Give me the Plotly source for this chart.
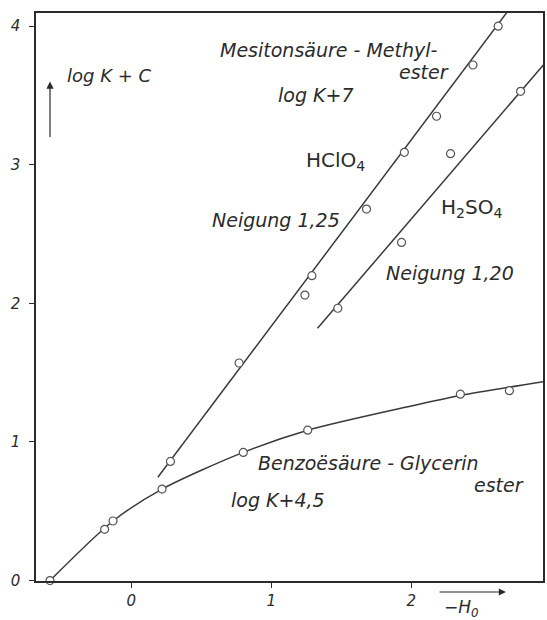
import plotly.graph_objects as go

# ---- data ----
# Benzoësäure-Glycerinester (log K + 4,5)
benz_x = [-0.58, -0.19, -0.13, 0.22, 0.80, 1.26, 2.35, 2.70]
benz_y = [0.00, 0.37, 0.43, 0.66, 0.925, 1.085, 1.345, 1.37]
benz_curve_x = [-0.58, -0.13, 0.22, 0.80, 1.26, 2.00, 2.35, 2.94]
benz_curve_y = [0.00, 0.43, 0.66, 0.925, 1.085, 1.26, 1.335, 1.435]

# Mesitonsäure-Methylester in HClO4 (log K + 7)
hclo4_x = [0.28, 0.77, 1.24, 1.29, 1.68, 1.95, 2.18, 2.44, 2.62]
hclo4_y = [0.86, 1.57, 2.06, 2.20, 2.68, 3.09, 3.35, 3.72, 4.00]
hclo4_fit_x = [0.19, 2.72]
hclo4_fit_y = [0.745, 4.15]

# Mesitonsäure-Methylester in H2SO4
h2so4_x = [1.475, 1.93, 2.28, 2.78]
h2so4_y = [1.965, 2.44, 3.08, 3.53]
h2so4_fit_x = [1.33, 2.96]
h2so4_fit_y = [1.82, 3.74]

x_ticks = [0, 1, 2]
y_ticks = [0, 1, 2, 3, 4]

FONT = "DejaVu Sans"
INK = "#2b2b2b"
LINE = dict(color="#3a3a3a", width=1.5)
MARK = dict(symbol="circle", size=8, color="white",
            line=dict(color="#555555", width=1.2))

fig = go.Figure()
fig.add_trace(go.Scatter(x=benz_curve_x, y=benz_curve_y, mode="lines",
                         line=dict(shape="spline", smoothing=0.8, **LINE),
                         hoverinfo="skip"))
fig.add_trace(go.Scatter(x=hclo4_fit_x, y=hclo4_fit_y, mode="lines", line=LINE))
fig.add_trace(go.Scatter(x=h2so4_fit_x, y=h2so4_fit_y, mode="lines", line=LINE))
fig.add_trace(go.Scatter(x=benz_x, y=benz_y, mode="markers", marker=MARK, cliponaxis=False))
fig.add_trace(go.Scatter(x=hclo4_x, y=hclo4_y, mode="markers", marker=MARK, cliponaxis=False))
fig.add_trace(go.Scatter(x=h2so4_x, y=h2so4_y, mode="markers", marker=MARK, cliponaxis=False))


def label(text, x, y, anchor="left", size=19):
    fig.add_annotation(x=x, y=y, xref="x", yref="y", text=text, showarrow=False,
                       xanchor=anchor, yanchor="middle",
                       font=dict(family=FONT, size=size, color=INK))

label("<i>Mesitonsäure - Methyl-</i>", 0.616, 3.83)
label("<i>ester</i>", 2.281, 3.67, "right")
label("<i>log K+7</i>", 1.036, 3.50)
label("HClO<sub>4</sub>", 1.235, 3.03, size=20)
label("H<sub>2</sub>SO<sub>4</sub>", 2.196, 2.69, size=20)
label("<i>Neigung 1,25</i>", 0.559, 2.60)
label("<i>Neigung 1,20</i>", 1.804, 2.22)
label("<i>Benzoësäure - Glycerin</i>", 0.893, 0.848)
label("<i>ester</i>", 2.822, 0.689, "right")
label("<i>log K+4,5</i>", 0.701, 0.581)
label("<i>log K + C</i>", -0.473, 3.647, size=18)

# vertical arrow next to y label
fig.add_annotation(x=-0.58, y=3.60, ax=-0.58, ay=3.19, xref="x", yref="y",
                   axref="x", ayref="y", text="", showarrow=True,
                   arrowhead=2, arrowsize=1.2, arrowwidth=1.2, arrowcolor=INK)
# horizontal arrow above -H0
fig.add_annotation(x=0.927, y=-0.0194, xref="paper", yref="paper",
                   ax=-68, ay=0, text="", showarrow=True,
                   arrowhead=2, arrowsize=1.2, arrowwidth=1.2, arrowcolor=INK)
fig.add_annotation(x=0.839, y=-0.049, xref="paper", yref="paper",
                   text="<i>−H<sub>0</sub></i>", showarrow=False,
                   xanchor="center", yanchor="middle",
                   font=dict(family=FONT, size=17, color=INK))

axis_common = dict(showline=True, linecolor=INK, linewidth=1.5, mirror=True,
                   showgrid=False, zeroline=False, ticks="outside", ticklen=5,
                   tickcolor=INK, tickwidth=1.2,
                   tickfont=dict(family=FONT, size=15, color=INK))

fig.update_layout(
    width=547, height=620,
    margin=dict(l=36, r=2, t=13, b=39),
    paper_bgcolor="white", plot_bgcolor="white",
    showlegend=False,
    xaxis=dict(range=[-0.68, 2.94], tickvals=x_ticks,
               ticktext=[f"<i>{v}</i>" for v in x_ticks], **axis_common),
    yaxis=dict(range=[-0.003, 4.095], tickvals=y_ticks,
               ticktext=[f"<i>{v}</i>" for v in y_ticks],
               ticklabelstandoff=6, **axis_common),
)

fig.write_html("out.html")
